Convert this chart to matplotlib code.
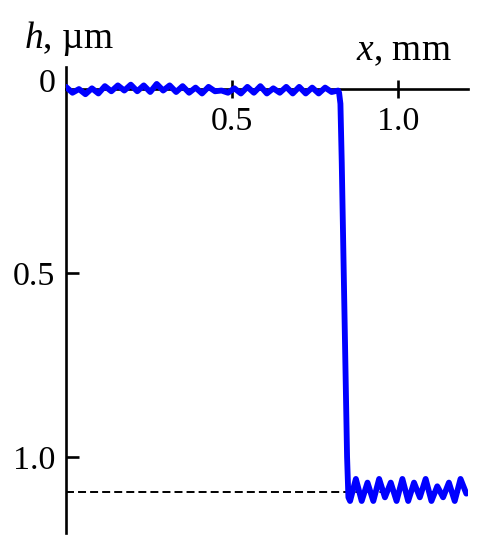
import numpy as np
import matplotlib
matplotlib.use("Agg")
import matplotlib.pyplot as plt
import matplotlib.transforms as mtransforms

plt.rcParams['font.family'] = ['Liberation Serif', 'DejaVu Serif']
plt.rcParams['mathtext.fontset'] = 'custom'
plt.rcParams['mathtext.it'] = 'Liberation Serif:italic'
plt.rcParams['mathtext.rm'] = 'Liberation Serif'

# --- data ---
top_step = 0.0195
top_h = [-0.006, 0.010, 0.000, 0.014, -0.002, 0.012, -0.008, 0.006, -0.010, 0.004,
         -0.012, 0.006, -0.010, 0.008, -0.014, 0.004, -0.010, 0.008, -0.008, 0.010,
         -0.004, 0.012, -0.006, 0.006, 0.004, 0.010, -0.002, 0.012, -0.006, 0.010,
         -0.008, 0.012, -0.002, 0.010, -0.006, 0.012, -0.006, 0.012, -0.004, 0.012,
         -0.004, 0.008, 0.004]
top_x = [i * top_step for i in range(len(top_h))]

step_x = [0.822, 0.826, 0.830, 0.838, 0.846, 0.850]
step_h = [0.010, 0.040, 0.200, 0.600, 1.000, 1.110]

bot_h = [1.12, 1.06, 1.12, 1.07, 1.12, 1.06, 1.11, 1.07, 1.12, 1.06, 1.12,
         1.07, 1.11, 1.06, 1.12, 1.08, 1.11, 1.07, 1.12, 1.06, 1.10]
bot_x0 = 0.855
bot_step = 0.0175
bot_x = [bot_x0 + i * bot_step for i in range(len(bot_h))]

x = top_x + step_x + bot_x
h = top_h + step_h + bot_h

dash_level = 1.095
x_ticks = [0.5, 1.0]
x_ticklabels = ["0.5", "1.0"]
y_ticks = [0.0, 0.5, 1.0]
y_ticklabels = ["0", "0.5", "1.0"]

W, H = 481, 550
fig = plt.figure(figsize=(W / 100, H / 100), dpi=100)
left, right, top, bottom = 66, 468, 67, 533
ax = fig.add_axes([left / W, 1 - bottom / H, (right - left) / W, (bottom - top) / H])

ax.plot([0, 1.21], [dash_level, dash_level], color='black', lw=1.4,
        dashes=(4.1, 2.1), zorder=1)
ax.plot(x, h, color='#0000ff', lw=4.2, solid_joinstyle='round',
        solid_capstyle='round', zorder=3)

ax.set_xlim(0, 1.21)
ax.set_ylim(1.207, -0.06)

for s in ['right', 'top']:
    ax.spines[s].set_visible(False)
ax.spines['bottom'].set_position(('data', 0))
for s in ['left', 'bottom']:
    ax.spines[s].set_linewidth(1.9)
    ax.spines[s].set_zorder(2)

ax.set_xticks(x_ticks)
ax.set_xticklabels(x_ticklabels)
ax.set_yticks(y_ticks)
ax.set_yticklabels(y_ticklabels)
ax.tick_params(axis='x', direction='inout', length=13, width=1.9,
               labelsize=24.5, pad=6)
ax.tick_params(axis='y', direction='in', length=9, width=1.9,
               labelsize=24.5, pad=7.5)
ax.yaxis.get_major_ticks()[0].tick1line.set_visible(False)
lab0 = ax.get_yticklabels()[0]
lab0.set_transform(lab0.get_transform() +
                   mtransforms.ScaledTranslation(0, 9 / 100, fig.dpi_scale_trans))

fig.text(69 / W, 1 - 48 / H, "$h$, µm", fontsize=27, ha='center',
         va='baseline')
fig.text(452 / W, 1 - 60 / H, "$x$, mm", fontsize=27, ha='right',
         va='baseline')

fig.savefig("out.png", dpi=100)
